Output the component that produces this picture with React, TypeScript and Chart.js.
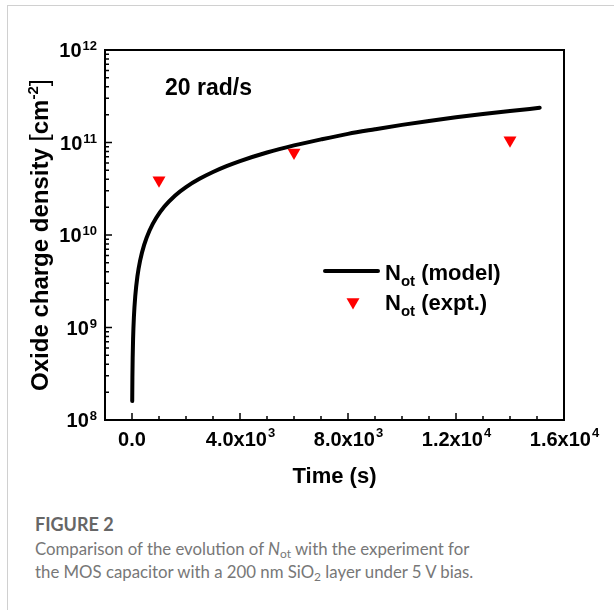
import { useEffect, useRef } from 'react';
import { Chart, registerables } from 'chart.js';
Chart.register(...registerables);

// ---- data ----
const modelTime = [8, 15, 25, 40, 70, 120, 200, 300, 450, 650, 900, 1200, 1600, 2000, 2500, 3000, 3500, 4000, 5000, 6000, 7000, 8000, 9000, 10000, 11000, 12000, 13000, 14000, 15100];
const modelNot = [1.6e8, 2.9e8, 4.7e8, 7.5e8, 1.29e9, 2.17e9, 3.57e9, 5.29e9, 7.83e9, 1.12e10, 1.535e10, 2.03e10, 2.68e10, 3.3e10, 4.05e10, 4.8e10, 5.55e10, 6.3e10, 7.8e10, 9.3e10, 1.08e11, 1.24e11, 1.39e11, 1.55e11, 1.71e11, 1.87e11, 2.03e11, 2.19e11, 2.37e11];
const exptTime = [1000, 6000, 14000];
const exptNot = [3.9e10, 7.8e10, 1.06e11];

const xMin = -1000;
const xMax = 16000;
const xMinorStep = 1000;
const xTickValues = [0, 4000, 8000, 12000, 16000];
const xTickBase = ['0.0', '4.0x10', '8.0x10', '1.2x10', '1.6x10'];
const xTickExp = ['', '3', '3', '4', '4'];

const yMin = 1e8;
const yMax = 1e12;
const yTickValues = [1e8, 1e9, 1e10, 1e11, 1e12];
const yTickExp = ['8', '9', '10', '11', '12'];

const annotationText = '20 rad/s';
const legendModel = ' (model)';
const legendExpt = ' (expt.)';

const FONT = '"Liberation Sans", Arial, Helvetica, sans-serif';

function setFont(ctx: CanvasRenderingContext2D, size: number, weight = 'bold') {
  ctx.font = `${weight} ${size}px ${FONT}`;
}

const decorPlugin = {
  id: 'decor',
  afterDraw(chart: any) {
    const ctx: CanvasRenderingContext2D = chart.ctx;
    const { left, right, top, bottom } = chart.chartArea;
    const xs = chart.scales.x;
    const ys = chart.scales.y;
    ctx.save();
    ctx.fillStyle = '#000';
    ctx.strokeStyle = '#000';

    // ticks (inward)
    ctx.lineWidth = 1.5;
    ctx.beginPath();
    for (let v = 0; v <= xMax; v += xMinorStep) {
      const px = xs.getPixelForValue(v);
      const major = xTickValues.includes(v);
      ctx.moveTo(px, bottom);
      ctx.lineTo(px, bottom - (major ? 7 : 4));
    }
    for (let e = 8; e < 12; e++) {
      for (let m = 1; m <= 9; m++) {
        const v = m * Math.pow(10, e);
        const py = ys.getPixelForValue(v);
        ctx.moveTo(left, py);
        ctx.lineTo(left + (m === 1 ? 7 : 4), py);
      }
    }
    ctx.stroke();

    // frame
    ctx.lineWidth = 2;
    ctx.strokeRect(left, top, right - left, bottom - top);

    // x tick labels
    ctx.textBaseline = 'alphabetic';
    ctx.textAlign = 'left';
    xTickValues.forEach((v, i) => {
      const px = xs.getPixelForValue(v);
      setFont(ctx, 20);
      const wb = ctx.measureText(xTickBase[i]).width;
      setFont(ctx, 13);
      const we = xTickExp[i] ? ctx.measureText(xTickExp[i]).width : 0;
      const start = px - (wb + we) / 2;
      const base = bottom + 26;
      setFont(ctx, 20);
      ctx.fillText(xTickBase[i], start, base);
      if (xTickExp[i]) {
        setFont(ctx, 13);
        ctx.fillText(xTickExp[i], start + wb + 1, base - 9);
      }
    });

    // y tick labels
    yTickValues.forEach((v, i) => {
      const py = ys.getPixelForValue(v);
      setFont(ctx, 13);
      const we = ctx.measureText(yTickExp[i]).width;
      setFont(ctx, 20);
      const wb = ctx.measureText('10').width;
      const end = left - 8;
      ctx.fillText('10', end - we - wb - 1, py + 7);
      setFont(ctx, 13);
      ctx.fillText(yTickExp[i], end - we, py);
    });

    // x axis title
    setFont(ctx, 22);
    ctx.textAlign = 'center';
    ctx.fillText('Time (s)', (left + right) / 2, bottom + 63);

    // y axis title (rotated)
    ctx.save();
    ctx.translate(48, (top + bottom) / 2);
    ctx.rotate(-Math.PI / 2);
    ctx.textAlign = 'left';
    const pieces: [string, number, string, number][] = [
      ['Oxide charge density ', 24, 'bold', 0],
      ['[', 26, 'normal', 0],
      ['cm', 24, 'bold', 0],
      ['-2', 15, 'bold', -10],
      [']', 26, 'normal', 0],
    ];
    let total = 0;
    pieces.forEach(([t, s, w]) => { setFont(ctx, s, w); total += ctx.measureText(t).width; });
    let cx = -total / 2;
    pieces.forEach(([t, s, w, dy]) => {
      setFont(ctx, s, w);
      ctx.fillText(t, cx, dy);
      cx += ctx.measureText(t).width;
    });
    ctx.restore();

    // annotation
    setFont(ctx, 23);
    ctx.textAlign = 'left';
    ctx.fillText(annotationText, left + 60, top + 45);

    // legend
    const lx = left + 220;
    const ly1 = top + 221;
    const ly2 = top + 260;
    ctx.lineWidth = 4;
    ctx.lineCap = 'round';
    ctx.beginPath();
    ctx.moveTo(lx, ly1);
    ctx.lineTo(lx + 53, ly1);
    ctx.stroke();
    const tx = lx + 60;
    const drawEntry = (y: number, rest: string) => {
      setFont(ctx, 22);
      ctx.fillText('N', tx, y);
      const wn = ctx.measureText('N').width;
      setFont(ctx, 15);
      ctx.fillText('ot', tx + wn, y + 6);
      const ws = ctx.measureText('ot').width;
      setFont(ctx, 22);
      ctx.fillText(rest, tx + wn + ws, y);
    };
    drawEntry(ly1 + 9, legendModel);
    // red triangle
    const r = 7.5;
    const trx = lx + 28;
    const tryy = ly2 - 8;
    ctx.fillStyle = '#ff0000';
    ctx.beginPath();
    ctx.moveTo(trx, tryy + r);
    ctx.lineTo(trx - r * 0.866, tryy - r / 2);
    ctx.lineTo(trx + r * 0.866, tryy - r / 2);
    ctx.closePath();
    ctx.fill();
    ctx.fillStyle = '#000';
    drawEntry(ly2, legendExpt);

    ctx.restore();
  },
};

export default function App() {
  const ref = useRef<HTMLCanvasElement | null>(null);
  useEffect(() => {
    if (!ref.current) return;
    const chart = new Chart(ref.current, {
      type: 'scatter',
      data: {
        datasets: [
          {
            type: 'line',
            label: 'Not (model)',
            data: modelTime.map((t, i) => ({ x: t, y: modelNot[i] })),
            borderColor: '#000',
            borderWidth: 4,
            pointRadius: 0,
            cubicInterpolationMode: 'monotone',
            borderCapStyle: 'round',
            borderJoinStyle: 'round',
            fill: false,
          } as any,
          {
            type: 'scatter',
            label: 'Not (expt.)',
            data: exptTime.map((t, i) => ({ x: t, y: exptNot[i] })),
            pointStyle: 'triangle',
            rotation: 180,
            pointRadius: 7.5,
            backgroundColor: '#ff0000',
            borderWidth: 0,
          } as any,
        ],
      },
      options: {
        animation: false,
        responsive: false,
        maintainAspectRatio: false,
        layout: { padding: { left: 0, right: 50, top: 50, bottom: 0 } },
        plugins: { legend: { display: false }, tooltip: { enabled: false } },
        scales: {
          x: {
            type: 'linear',
            min: xMin,
            max: xMax,
            grid: { display: false },
            border: { display: false },
            ticks: { display: false },
            afterFit: (s: any) => { s.height = 80; },
          },
          y: {
            type: 'logarithmic',
            min: yMin,
            max: yMax,
            grid: { display: false },
            border: { display: false },
            ticks: { display: false },
            afterFit: (s: any) => { s.width = 105; },
          },
        },
      },
      plugins: [decorPlugin],
    });
    return () => chart.destroy();
  }, []);

  const cap: React.CSSProperties = {
    position: 'absolute',
    left: 35,
    fontFamily: 'Lato, "Open Sans", sans-serif',
    color: '#777',
    whiteSpace: 'nowrap',
  };
  const sub: React.CSSProperties = { fontSize: 12, lineHeight: 0, verticalAlign: '-3px' };

  return (
    <div>
      <div style={{ position: 'absolute', left: 7, top: 5, width: 620, height: 620, borderLeft: '1px solid #d0d0d0', borderTop: '1px solid #d0d0d0' }} />
      <canvas ref={ref} width={614} height={500} style={{ position: 'absolute', left: 0, top: 0, width: 614, height: 500 }} />
      <div style={{ ...cap, top: 513, fontSize: 18, fontWeight: 700, color: '#666' }}>FIGURE 2</div>
      <div style={{ ...cap, top: 537, fontSize: 16.8, lineHeight: '23px', fontWeight: 400 }}>
        Comparison of the evolution of <i>N</i><span style={sub}>ot</span> with the experiment for
        <br />
        the MOS capacitor with a 200 nm SiO<span style={sub}>2</span> layer under 5 V bias.
      </div>
    </div>
  );
}
